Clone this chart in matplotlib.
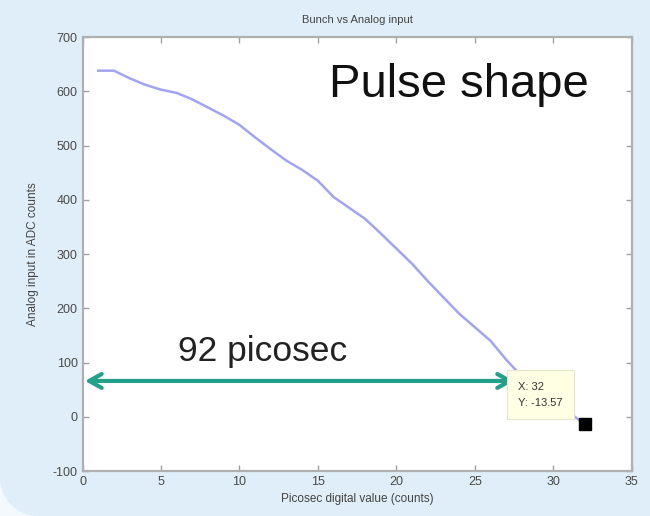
import matplotlib.pyplot as plt
from matplotlib.patches import Rectangle, Ellipse

plt.rcParams['font.family'] = ['Liberation Sans', 'DejaVu Sans']
plt.rcParams['axes.unicode_minus'] = False

# picosec digital value vs. analog input (ADC counts)
counts = [1, 2, 3, 4, 5, 6, 7, 8, 9, 10, 11, 12, 13, 14, 15, 16,
          17, 18, 19, 20, 21, 22, 23, 24, 25, 26, 27, 28, 29, 30, 31, 32]
adc = [638, 638, 624, 612, 603, 597, 585, 570, 555, 538, 515, 493,
       472, 455, 435, 405, 385, 365, 338, 310, 282, 250, 220, 190,
       165, 140, 105, 74, 52, 30, 8, -13.57]

# selected data tip
tip_x, tip_y = 32, -13.57

# pulse width arrow
span_start, span_end, span_level = 0.15, 27.5, 66
span_label = '92 picosec'

W, H = 650, 516
bg = '#dfeef9'
fig = plt.figure(figsize=(W / 100, H / 100), dpi=100)
fig.patch.set_facecolor(bg)

# rounded lower-left corner of the slide panel
r = 38
fig.patches.append(Rectangle((0, 0), r / W, r / H, transform=fig.transFigure,
                             facecolor='#f4f9fd', edgecolor='none', zorder=-10))
fig.patches.append(Ellipse((r / W, r / H), 2 * r / W, 2 * r / H, transform=fig.transFigure,
                           facecolor=bg, edgecolor='none', zorder=-9))

ax = fig.add_axes([0.127, 0.0872, 0.845, 0.841])
ax.set_facecolor('white')

ax.plot(counts, adc, color='#a3a3f2', lw=1.8, zorder=2)
ax.plot([tip_x], [tip_y], 's', color='black', ms=8, zorder=6)

ax.annotate('X: %g\nY: %.2f' % (tip_x, tip_y), xy=(tip_x, tip_y),
            xytext=(27.75, 41), fontsize=8, color='#333333', va='center',
            ha='left', linespacing=1.75,
            bbox=dict(boxstyle='square,pad=1.0', fc='#ffffe3', ec='#e6e6cc', lw=0.8),
            zorder=5)

ax.annotate('', xy=(span_start, span_level), xytext=(span_end, span_level),
            arrowprops=dict(arrowstyle='<->,head_length=0.9,head_width=0.5',
                            color='#23a08a', lw=3, shrinkA=0, shrinkB=0),
            zorder=4)
ax.text(11.45, 120, span_label, fontsize=25.5, ha='center', va='center', color='#222222')
ax.text(24.0, 612, 'Pulse shape', fontsize=34, ha='center', va='center', color='#111111')

ax.set_xlim(0, 35)
ax.set_ylim(-100, 700)
ax.set_xticks(range(0, 36, 5))
ax.set_yticks(range(-100, 701, 100))
ax.tick_params(direction='in', top=True, right=True, length=4, width=1,
               colors='#a0a0a0', labelcolor='#4a4a4a', labelsize=9)
for s in ax.spines.values():
    s.set_color('#b0b0b0')
    s.set_linewidth(1.6)

ax.set_title('Bunch vs Analog input', fontsize=8, color='#444444', pad=10)
ax.set_xlabel('Picosec digital value (counts)', fontsize=8.5, color='#444444', labelpad=4)
ax.set_ylabel('Analog input in ADC counts', fontsize=8.5, color='#444444', labelpad=10)

fig.savefig('out.png', dpi=100, facecolor=fig.get_facecolor())
